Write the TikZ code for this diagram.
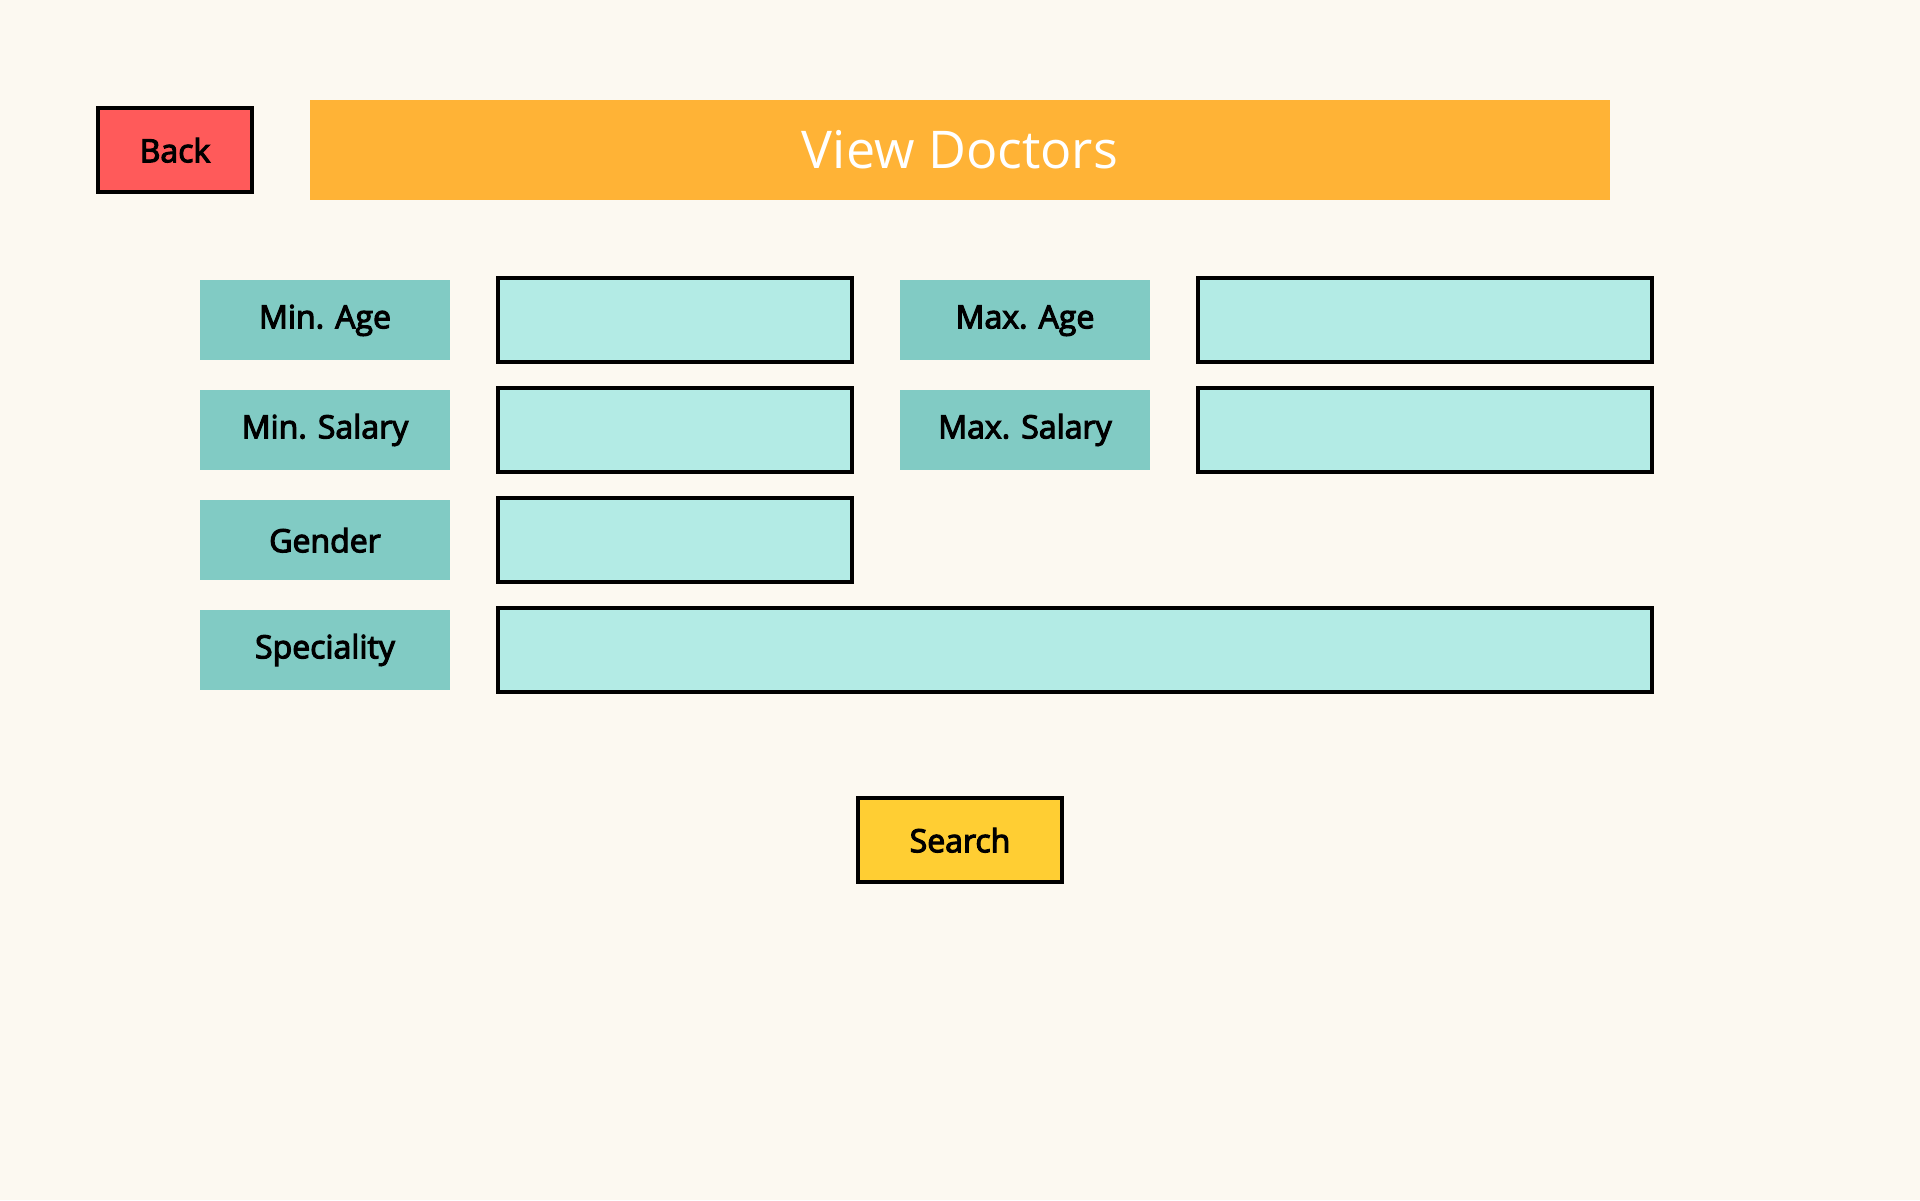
\documentclass[tikz,border=0pt]{standalone}
\usepackage{fontspec}
\setmainfont{Open Sans}
\newfontfamily\semib{Open Sans}[FakeBold=3.5]
\definecolor{bgc}{HTML}{FCF9F1}
\definecolor{titlec}{HTML}{FFB336}
\definecolor{backc}{HTML}{FF5A5A}
\definecolor{lblc}{HTML}{81CBC4}
\definecolor{inpc}{HTML}{B3EBE5}
\definecolor{searchc}{HTML}{FFCE33}
\tikzset{
  btn/.style={draw=black, line width=2pt, inner sep=0pt, minimum height=42pt, font=\semib\fontsize{16}{18}\selectfont, text height=12.2pt, text depth=0pt},
  lbl/.style={fill=lblc, draw=none, inner sep=0pt, minimum width=125pt, minimum height=40pt, font=\semib\fontsize{16}{18}\selectfont, text height=11.5pt, text depth=3.2pt},
  capsonly/.style={text height=12.2pt, text depth=0pt},
  inp/.style={fill=inpc, draw=black, line width=2pt, inner sep=0pt, minimum height=42pt},
}
\begin{document}
\begin{tikzpicture}[x=0.5pt,y=-0.5pt]
\useasboundingbox[fill=bgc] (0,0) rectangle (1920,1200);
% header
\node[btn, fill=backc, minimum width=77pt] (back) at (175,150) {Back};
\node[fill=titlec, inner sep=0pt, minimum width=650pt, minimum height=50pt, text=white, font=\fontsize{26}{30}\selectfont, text height=18.3pt, text depth=0pt] (title) at (960,150) {View Doctors};
% labels
\node[lbl] (minage) at (325,320) {Min. Age};
\node[lbl] (minsal) at (325,430) {Min. Salary};
\node[lbl, capsonly] (gender) at (325,540) {Gender};
\node[lbl] (spec) at (325,650) {Speciality};
\node[lbl] (maxage) at (1025,320) {Max. Age};
\node[lbl] (maxsal) at (1025,430) {Max. Salary};
% inputs
\node[inp, minimum width=177pt] (minagein) at (675,320) {};
\node[inp, minimum width=177pt] (minsalin) at (675,430) {};
\node[inp, minimum width=177pt] (genderin) at (675,540) {};
\node[inp, minimum width=577pt] (specin) at (1075,650) {};
\node[inp, minimum width=227pt] (maxagein) at (1425,320) {};
\node[inp, minimum width=227pt] (maxsalin) at (1425,430) {};
% search
\node[btn, fill=searchc, minimum width=102pt] (search) at (960,840) {Search};
\end{tikzpicture}
\end{document}
